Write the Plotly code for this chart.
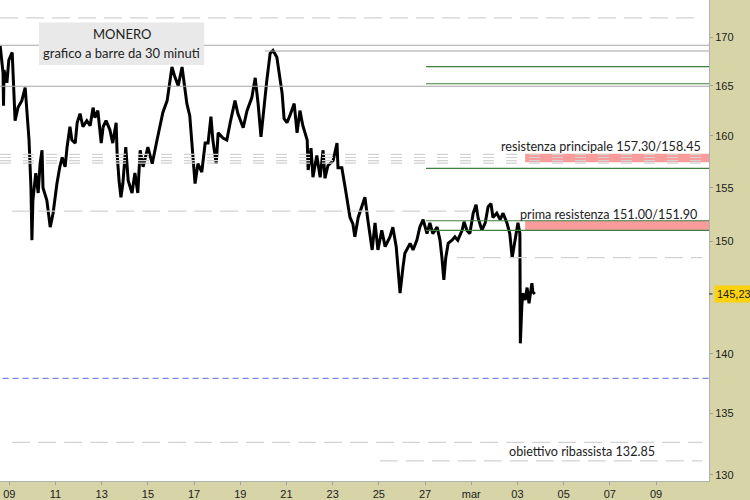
import math
import plotly.graph_objects as go

# ---------------- data ----------------
times = [
    "02-08 14:30", "02-08 16:30", "02-08 17:30", "02-08 18:00", "02-08 18:30", "02-08 21:30", "02-08 23:30",
    "02-09 03:00", "02-09 04:00", "02-09 06:00", "02-09 09:00", "02-09 13:00", "02-09 16:30", "02-09 18:30",
    "02-09 20:30", "02-09 22:30", "02-09 23:30",
    "02-10 00:30", "02-10 03:30", "02-10 06:00", "02-10 08:00", "02-10 10:00", "02-10 11:00", "02-10 15:00",
    "02-10 18:30", "02-10 21:30", "02-10 23:30",
    "02-11 01:30", "02-11 04:30", "02-11 07:00", "02-11 10:00", "02-11 12:00", "02-11 15:00", "02-11 17:00",
    "02-11 20:30", "02-11 22:30",
    "02-12 01:30", "02-12 04:30", "02-12 08:30", "02-12 12:00", "02-12 15:00", "02-12 17:00", "02-12 20:00",
    "02-12 23:30",
    "02-13 01:30", "02-13 04:30", "02-13 08:30", "02-13 11:30", "02-13 15:00", "02-13 16:00", "02-13 18:00",
    "02-13 20:00", "02-13 22:00",
    "02-14 01:00", "02-14 03:30", "02-14 07:30", "02-14 10:30", "02-14 13:30", "02-14 16:00", "02-14 19:00",
    "02-15 00:00", "02-15 04:30", "02-15 09:30", "02-15 12:30", "02-15 15:30", "02-15 20:00", "02-15 22:00",
    "02-16 01:00", "02-16 04:00", "02-16 07:30", "02-16 11:30", "02-16 13:30", "02-16 16:30", "02-16 19:30",
    "02-16 22:00",
    "02-17 01:00", "02-17 04:00", "02-17 08:00", "02-17 11:30", "02-17 14:30", "02-17 17:30", "02-17 19:30",
    "02-17 23:00",
    "02-18 01:00", "02-18 06:00", "02-18 10:00", "02-18 13:30", "02-18 18:30", "02-18 21:30",
    "02-19 03:00", "02-19 07:00", "02-19 12:00", "02-19 15:30", "02-19 18:30", "02-19 21:30", "02-19 23:30",
    "02-20 03:30", "02-20 07:00", "02-20 10:00", "02-20 14:00", "02-20 17:30", "02-20 19:30", "02-20 21:30",
    "02-21 00:30", "02-21 03:30", "02-21 08:00", "02-21 11:00", "02-21 14:00", "02-21 17:00", "02-21 21:30",
    "02-21 22:30",
    "02-22 01:30", "02-22 03:30", "02-22 07:30", "02-22 11:00", "02-22 14:00", "02-22 16:00", "02-22 19:00",
    "02-23 00:30", "02-23 04:30", "02-23 05:30", "02-23 09:30", "02-23 13:00", "02-23 16:00", "02-23 18:00",
    "02-23 21:00", "02-23 23:00",
    "02-24 02:30", "02-24 06:30", "02-24 09:30", "02-24 12:30", "02-24 17:00", "02-24 20:00", "02-24 23:00",
    "02-25 03:00", "02-25 06:30", "02-25 11:30", "02-25 14:30", "02-25 18:00", "02-25 20:00", "02-25 22:00",
    "02-26 01:00", "02-26 03:00", "02-26 08:30", "02-26 11:30", "02-26 15:30", "02-26 18:30", "02-26 22:00",
    "02-27 02:00", "02-27 05:00", "02-27 08:00", "02-27 12:30", "02-27 15:30", "02-27 17:30", "02-27 19:30",
    "02-27 21:30",
    "02-28 00:00", "02-28 04:00", "02-28 07:00", "02-28 10:00", "02-28 14:30", "02-28 16:30", "02-28 19:30",
    "02-28 22:30",
    "03-01 02:00", "03-01 05:00", "03-01 07:00", "03-01 11:00", "03-01 14:30", "03-01 17:30", "03-01 20:30",
    "03-01 22:30",
    "03-02 02:30", "03-02 06:00", "03-02 09:00", "03-02 13:00", "03-02 16:00", "03-02 18:30", "03-02 21:30",
    "03-03 00:30", "03-03 02:30", "03-03 03:00", "03-03 04:30", "03-03 05:30", "03-03 08:00", "03-03 10:00",
    "03-03 12:00", "03-03 15:00", "03-03 16:00", "03-03 18:00",
]
prices = [
    169.1, 167.6, 166.3, 163.0, 166.6, 165.3, 167.6,
    168.4, 165.4, 161.5, 162.8, 163.5, 164.8, 162.5,
    159.6, 155.0, 150.1,
    153.8, 156.4, 154.5, 157.3, 158.6, 155.0, 153.8,
    151.3, 152.6, 154.1,
    155.4, 157.0, 157.9, 157.0, 158.9, 160.9, 159.6,
    159.3, 161.3,
    162.2, 160.9, 161.5, 161.0, 162.8, 161.8, 162.5,
    159.3,
    160.9, 161.5, 160.6, 159.3, 161.3, 158.3, 155.7,
    154.1, 155.4,
    158.9, 155.7, 154.5, 156.4, 154.5, 158.6, 157.0,
    158.9, 157.3, 159.6, 160.9, 162.3, 163.5, 165.0,
    166.9, 165.9, 165.0, 166.9, 165.4, 163.2, 162.0,
    159.1,
    155.4, 157.3, 156.5, 159.3, 159.3, 161.9, 159.6,
    157.3,
    160.3, 159.8, 159.6, 161.3, 163.5, 162.2,
    160.8, 162.5, 163.8, 165.8, 163.2, 159.9, 161.8,
    165.5, 168.3, 168.6, 167.9, 165.8, 164.2, 161.7,
    161.3, 162.0, 163.2, 160.3, 162.5, 161.0, 159.6,
    156.7,
    158.8, 156.0, 158.1, 156.0, 158.6, 155.9, 157.1,
    157.6, 159.3, 156.9, 156.9, 155.0, 153.1, 152.2,
    151.6, 150.4,
    152.2, 153.2, 154.1, 152.0, 149.2, 151.7, 149.2,
    151.0, 149.5, 150.4, 151.3, 149.5, 147.6, 145.3,
    147.6, 148.9, 149.8, 149.2, 150.1, 151.3, 152.0,
    150.7, 151.7, 150.7, 151.3, 150.1, 148.5, 146.5,
    148.5,
    149.8, 150.1, 150.4, 150.1, 151.0, 151.8, 151.0,
    150.7,
    152.6, 153.4, 152.2, 151.0, 151.7, 153.2, 153.5,
    152.2,
    152.6, 152.0, 152.6, 151.7, 150.7, 148.5, 150.1,
    151.7, 150.7, 140.9, 144.1, 145.3, 144.7, 145.8,
    144.4, 146.2, 145.4, 145.23,
]
year = "2023-"
dates = [year + t for t in times]

x_tickvals = ["2023-02-09", "2023-02-11", "2023-02-13", "2023-02-15", "2023-02-17",
              "2023-02-19", "2023-02-21", "2023-02-23", "2023-02-25", "2023-02-27",
              "2023-03-01", "2023-03-03", "2023-03-05", "2023-03-07", "2023-03-09"]
x_ticktext = ["09", "11", "13", "15", "17", "19", "21", "23", "25", "27",
              "mar", "03", "05", "07", "09"]
y_tickvals = [130, 135, 140, 150, 155, 160, 165, 170]

last_price = 145.23
x_start, x_end = "2023-02-08 14:20", "2023-03-11 07:00"
y_low, y_high = 129.5, 173.9

# horizontal levels
gray_solid = [(169.14, x_start), (164.94, x_start), (168.55, "2023-02-20 01:30")]
green_levels = [166.94, 165.2, 156.85, 151.9, 151.0]
green_start = "2023-02-27 01:00"
pink_bands = [(151.0, 151.9), (157.45, 158.25)]
pink_start = "2023-03-03 08:00"
dashed_long = [(172.0, x_start, "2023-03-11 00:00"),
               (152.8, "2023-02-09 03:00", "2023-02-28 22:00"),
               (148.5, "2023-02-28 09:00", "2023-03-11 00:00"),
               (132.6, "2023-02-09 03:00", "2023-03-11 00:00"),
               (131.1, "2023-02-25 01:00", "2023-03-11 00:00")]
dashed_short = [158.2, 157.9, 157.6, 157.35]
blue_level = 137.9

KHAKI = "#d7d5a8"
FONT_TXT = "Lato, 'Open Sans', sans-serif"
FONT_AX = "'Liberation Sans', Arial, sans-serif"

fig = go.Figure()

# price line
fig.add_trace(go.Scatter(x=dates, y=prices, mode="lines",
                         line=dict(color="black", width=3), hoverinfo="skip"))

# pink bands
for lo, hi in pink_bands:
    fig.add_trace(go.Scatter(x=[pink_start, x_end, x_end, pink_start, pink_start],
                             y=[lo, lo, hi, hi, lo], mode="lines", fill="toself",
                             fillcolor="#f89c9c", line=dict(width=0), hoverinfo="skip"))

# dashed light-gray lines
for lvl, xa, xb in dashed_long:
    fig.add_trace(go.Scatter(x=[xa, xb], y=[lvl, lvl], mode="lines",
                             line=dict(color="#d2d2d2", width=1.2, dash="18px,8px"), hoverinfo="skip"))
for lvl in dashed_short:
    fig.add_trace(go.Scatter(x=[x_start, "2023-03-11 00:00"], y=[lvl, lvl], mode="lines",
                             line=dict(color="#d2d2d2", width=1.2, dash="11px,12px"), hoverinfo="skip"))

# green lines
for lvl in green_levels:
    fig.add_trace(go.Scatter(x=[green_start, x_end], y=[lvl, lvl], mode="lines",
                             line=dict(color="#3f7f3f", width=1.1), hoverinfo="skip"))

# gray solid lines
for lvl, xa in gray_solid:
    fig.add_trace(go.Scatter(x=[xa, x_end], y=[lvl, lvl], mode="lines",
                             line=dict(color="#a6a6a6", width=1.1), hoverinfo="skip"))

# blue dashed line
fig.add_trace(go.Scatter(x=["2023-02-08 17:00", x_end], y=[blue_level, blue_level], mode="lines",
                         line=dict(color="#7b86e0", width=1.2, dash="6px,4px"), hoverinfo="skip"))

# MONERO title box
fig.add_shape(type="rect", xref="paper", yref="paper", x0=0.055, x1=0.288, y0=0.865, y1=0.953,
              fillcolor="#e9e9e9", line=dict(width=0), layer="above")
fig.add_annotation(xref="paper", yref="paper", x=0.1714, y=0.9287, text="MONERO", showarrow=False,
                   font=dict(family=FONT_TXT, size=13, color="#222"), xanchor="center", yanchor="middle")
fig.add_annotation(xref="paper", yref="paper", x=0.1714, y=0.8904, text="grafico a barre da 30 minuti",
                   showarrow=False, font=dict(family=FONT_TXT, size=13, color="#222"),
                   xanchor="center", yanchor="middle")

# level labels
fig.add_annotation(x="2023-03-11 00:30", y=math.log10(158.95), text="resistenza principale 157.30/158.45",
                   showarrow=False, xanchor="right", yanchor="middle",
                   font=dict(family=FONT_TXT, size=12.6, color="#222"))
fig.add_annotation(x="2023-03-10 21:00", y=math.log10(152.47), text="prima resistenza 151.00/151.90",
                   showarrow=False, xanchor="right", yanchor="middle",
                   font=dict(family=FONT_TXT, size=12.6, color="#222"))
fig.add_annotation(x="2023-03-05 19:00", y=math.log10(131.83), text="obiettivo ribassista 132.85",
                   showarrow=False, xanchor="center", yanchor="middle",
                   font=dict(family=FONT_TXT, size=12.6, color="#222"))

# last price tag with its small tick
fig.add_shape(type="line", xref="paper", yref="y", x0=1.0, x1=1.005, y0=last_price, y1=last_price,
              line=dict(color="#222", width=1))
fig.add_annotation(xref="paper", x=1.0, xshift=5, y=math.log10(last_price),
                   text="145,23", showarrow=False, xanchor="left", yanchor="middle",
                   bgcolor="#fcd20f", borderpad=2,
                   font=dict(family=FONT_AX, size=11, color="#222"))

fig.update_layout(
    width=750, height=500,
    margin=dict(l=0, r=41, t=0, b=19, pad=0),
    paper_bgcolor=KHAKI, plot_bgcolor="white",
    showlegend=False,
    xaxis=dict(type="date", range=[x_start, x_end], tickvals=x_tickvals, ticktext=x_ticktext,
               showgrid=False, zeroline=False, showline=True, linecolor="#b0b0b0", linewidth=1,
               ticks="outside", ticklen=3, tickcolor="#a0a0a0",
               tickfont=dict(family=FONT_AX, size=11, color="#202020")),
    yaxis=dict(type="log", side="right", range=[math.log10(y_low), math.log10(y_high)],
               tickvals=y_tickvals, ticktext=[str(v) for v in y_tickvals],
               showgrid=False, zeroline=False, showline=True, linecolor="#b0b0b0", linewidth=1,
               ticks="outside", ticklen=3, tickcolor="#a0a0a0",
               tickfont=dict(family=FONT_AX, size=11, color="#202020")),
)

fig.write_html("out.html", config={"displayModeBar": False},
               post_script="document.body.style.margin='0';document.body.style.overflow='hidden';")
